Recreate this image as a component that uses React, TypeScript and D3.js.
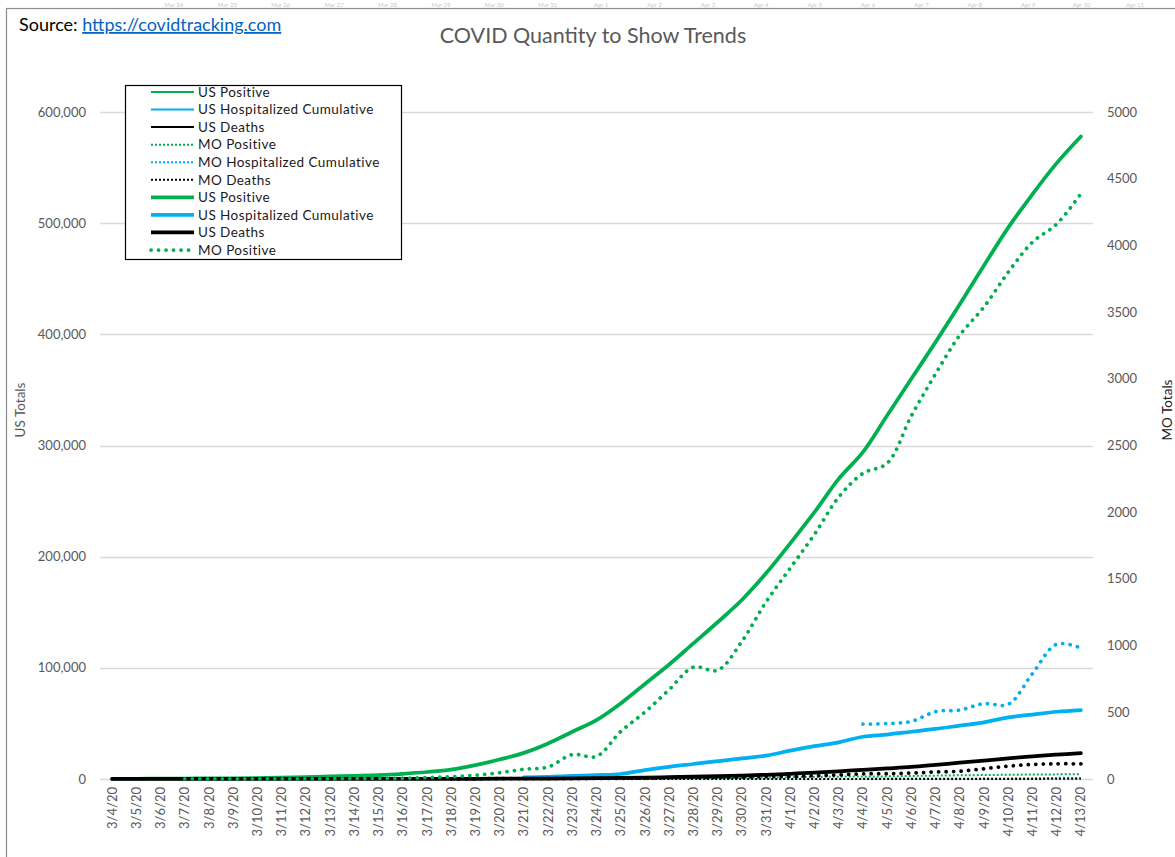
import { useEffect, useRef } from "react";
import * as d3 from "d3";

const dates = [
  "3/4/20", "3/5/20", "3/6/20", "3/7/20", "3/8/20", "3/9/20", "3/10/20", "3/11/20",
  "3/12/20", "3/13/20", "3/14/20", "3/15/20", "3/16/20", "3/17/20", "3/18/20", "3/19/20",
  "3/20/20", "3/21/20", "3/22/20", "3/23/20", "3/24/20", "3/25/20", "3/26/20", "3/27/20",
  "3/28/20", "3/29/20", "3/30/20", "3/31/20", "4/1/20", "4/2/20", "4/3/20", "4/4/20",
  "4/5/20", "4/6/20", "4/7/20", "4/8/20", "4/9/20", "4/10/20", "4/11/20", "4/12/20", "4/13/20",
];

type V = number | null;

const usPositive: V[] = [
  120, 200, 300, 400, 500, 600, 900, 1200, 1700, 2300, 2900, 3500, 4700, 6300, 8500, 12500,
  17500, 23500, 32000, 42500, 53000, 68000, 85500, 103000, 122000, 141000, 161000, 185000,
  212000, 240000, 270000, 294000, 327000, 360000, 393000, 427000, 462000, 496000, 526000,
  554000, 578000,
];

const usHospitalized: V[] = [
  null, null, null, null, null, null, null, null, null, null, null, null, null, null, null, null,
  null, 1500, 2000, 2800, 3500, 4500, 8000, 11000, 13500, 16000, 18500, 21000, 25500, 29500,
  33000, 38000, 40000, 42500, 45000, 48000, 51000, 55500, 58000, 60500, 62000,
];

const usDeaths: V[] = [
  10, 12, 14, 17, 21, 22, 28, 36, 40, 49, 57, 68, 85, 108, 137, 192, 249, 321, 420, 556, 763,
  1000, 1300, 1700, 2200, 2500, 3000, 3800, 4700, 5700, 6900, 8300, 9500, 10800, 12700, 14700,
  16600, 18600, 20400, 21900, 23300,
];

const moPositive: V[] = [
  null, null, null, 1, 1, 1, 1, 1, 1, 2, 4, 5, 6, 11, 17, 28, 47, 73, 90, 183, 170, 356, 502,
  670, 838, 815, 1031, 1327, 1581, 1834, 2113, 2291, 2367, 2722, 3037, 3327, 3539, 3799, 4024,
  4160, 4388,
];

const moHospitalized: V[] = [
  null, null, null, null, null, null, null, null, null, null, null, null, null, null, null, null,
  null, null, null, null, null, null, null, null, null, null, null, null, null, null, null, 412,
  415, 432, 505, 517, 565, 560, 790, 1010, 982,
];

const moDeaths: V[] = [
  null, null, null, null, null, null, null, null, null, null, null, null, null, null, 1, 1, 3, 3,
  3, 3, 4, 5, 8, 9, 12, 13, 14, 18, 19, 24, 30, 39, 40, 44, 53, 58, 77, 96, 109, 114, 114,
];

const usTicks = [0, 100000, 200000, 300000, 400000, 500000, 600000];
const moTicks = [0, 500, 1000, 1500, 2000, 2500, 3000, 3500, 4000, 4500, 5000];

// faint labels of another chart peeking in at the very top
const topLabels = [
  "Mar 24", "Mar 25", "Mar 26", "Mar 27", "Mar 28", "Mar 29", "Mar 30", "Mar 31", "Apr 1",
  "Apr 2", "Apr 3", "Apr 4", "Apr 5", "Apr 6", "Apr 7", "Apr 8", "Apr 9", "Apr 10", "Apr 11",
];

const GREEN = "#00B050";
const BLUE = "#00B0F0";
const BLACK = "#000000";
const GREY = "#595959";
const FONT = "Lato, 'Open Sans', sans-serif";

type Series = {
  name: string;
  values: V[];
  color: string;
  axis: "us" | "mo";
  width: number;
  dash: string | null;
  cap: "butt" | "round";
};

const thinSeries: Series[] = [
  { name: "US Positive", values: usPositive, color: GREEN, axis: "us", width: 2, dash: null, cap: "butt" },
  { name: "US Hospitalized Cumulative", values: usHospitalized, color: BLUE, axis: "us", width: 2, dash: null, cap: "butt" },
  { name: "US Deaths", values: usDeaths, color: BLACK, axis: "us", width: 2, dash: null, cap: "butt" },
  { name: "MO Positive", values: moPositive, color: GREEN, axis: "us", width: 2, dash: "2 2", cap: "butt" },
  { name: "MO Hospitalized Cumulative", values: moHospitalized, color: BLUE, axis: "us", width: 2, dash: "2 2", cap: "butt" },
  { name: "MO Deaths", values: moDeaths, color: BLACK, axis: "us", width: 2, dash: "2 2", cap: "butt" },
];

const thickSeries: Series[] = [
  { name: "US Positive", values: usPositive, color: GREEN, axis: "us", width: 3.75, dash: null, cap: "round" },
  { name: "US Hospitalized Cumulative", values: usHospitalized, color: BLUE, axis: "us", width: 3.75, dash: null, cap: "round" },
  { name: "US Deaths", values: usDeaths, color: BLACK, axis: "us", width: 3.75, dash: null, cap: "round" },
  { name: "MO Positive", values: moPositive, color: GREEN, axis: "mo", width: 3.75, dash: "0.1 7.4", cap: "round" },
  { name: "MO Hospitalized Cumulative", values: moHospitalized, color: BLUE, axis: "mo", width: 3.75, dash: "0.1 7.4", cap: "round" },
  { name: "MO Deaths", values: moDeaths, color: BLACK, axis: "mo", width: 3.75, dash: "0.1 7.4", cap: "round" },
];

// legend box only fits the first ten entries
const legendEntries = [...thinSeries, ...thickSeries].slice(0, 10);

const W = 1175;
const H = 857;
const PLOT = { left: 100, right: 1093, top: 112, bottom: 779 };

function App() {
  const svgRef = useRef<SVGSVGElement>(null);

  useEffect(() => {
    const svg = svgRef.current;
    if (!svg) return;
    d3.select(svg).selectAll("*").remove();
    const root = d3.select(svg);

    const x = d3.scalePoint<string>().domain(dates).range([PLOT.left, PLOT.right]).padding(0.5);
    const yUs = d3.scaleLinear().domain([0, 600000]).range([PLOT.bottom, PLOT.top]);
    const yMo = d3.scaleLinear().domain([0, 5000]).range([PLOT.bottom, PLOT.top]);

    root.append("rect").attr("width", W).attr("height", H).attr("fill", "#fff");

    // faint top labels
    const xTop = d3.scalePoint<string>().domain(topLabels).range([174, 1135]);
    root
      .append("g")
      .selectAll("text")
      .data(topLabels)
      .join("text")
      .attr("x", (d) => xTop(d)!)
      .attr("y", 6.5)
      .attr("text-anchor", "middle")
      .attr("font-family", FONT)
      .attr("font-size", 6)
      .attr("fill", "#c8c8c8")
      .text((d) => d);

    // chart area frame
    root
      .append("rect")
      .attr("x", 6.5)
      .attr("y", 8.5)
      .attr("width", W + 20)
      .attr("height", H + 20)
      .attr("fill", "#fff")
      .attr("stroke", "#8c8c8c")
      .attr("stroke-width", 1.2);

    // gridlines
    root
      .append("g")
      .selectAll("line")
      .data(usTicks)
      .join("line")
      .attr("x1", PLOT.left)
      .attr("x2", PLOT.right)
      .attr("y1", (d) => Math.round(yUs(d)) + 0.5)
      .attr("y2", (d) => Math.round(yUs(d)) + 0.5)
      .attr("stroke", "#d9d9d9")
      .attr("stroke-width", 1.3);

    // left axis labels
    root
      .append("g")
      .selectAll("text")
      .data(usTicks)
      .join("text")
      .attr("x", 86)
      .attr("y", (d) => yUs(d))
      .attr("dy", "0.35em")
      .attr("text-anchor", "end")
      .attr("font-family", FONT)
      .attr("font-size", 13)
      .attr("fill", GREY)
      .text((d) => d3.format(",")(d));

    // right axis labels
    root
      .append("g")
      .selectAll("text")
      .data(moTicks)
      .join("text")
      .attr("x", 1107)
      .attr("y", (d) => yMo(d))
      .attr("dy", "0.35em")
      .attr("text-anchor", "start")
      .attr("font-family", FONT)
      .attr("font-size", 13)
      .attr("fill", GREY)
      .text((d) => String(d));

    // x labels
    root
      .append("g")
      .selectAll("text")
      .data(dates)
      .join("text")
      .attr("transform", (d) => `translate(${x(d)},787) rotate(-90)`)
      .attr("dy", "0.35em")
      .attr("text-anchor", "end")
      .attr("font-family", FONT)
      .attr("font-size", 13)
      .attr("fill", GREY)
      .text((d) => d);

    // axis titles
    root
      .append("text")
      .attr("transform", "translate(20,410) rotate(-90)")
      .attr("dy", "0.35em")
      .attr("text-anchor", "middle")
      .attr("font-family", FONT)
      .attr("font-size", 13.5)
      .attr("fill", GREY)
      .text("US Totals");

    root
      .append("text")
      .attr("transform", "translate(1167,410) rotate(-90)")
      .attr("dy", "0.35em")
      .attr("text-anchor", "middle")
      .attr("font-family", FONT)
      .attr("font-size", 13.5)
      .attr("fill", "#222")
      .text("MO Totals");

    // title
    root
      .append("text")
      .attr("x", 593)
      .attr("y", 43)
      .attr("text-anchor", "middle")
      .attr("font-family", FONT)
      .attr("font-size", 21.5)
      .attr("fill", GREY)
      .text("COVID Quantity to Show Trends");

    // source
    const src = root
      .append("text")
      .attr("x", 19)
      .attr("y", 31)
      .attr("font-family", FONT)
      .attr("font-size", 18)
      .attr("fill", "#000");
    src.append("tspan").text("Source: ");
    src
      .append("tspan")
      .attr("fill", "#0563C1")
      .attr("text-decoration", "underline")
      .text("https://covidtracking.com");

    // lines
    const drawSeries = (s: Series) => {
      const y = s.axis === "us" ? yUs : yMo;
      const line = d3
        .line<V>()
        .defined((d) => d != null)
        .x((_, i) => x(dates[i])!)
        .y((d) => y(d as number))
        .curve(d3.curveCatmullRom.alpha(0.5));
      root
        .append("path")
        .datum(s.values)
        .attr("fill", "none")
        .attr("stroke", s.color)
        .attr("stroke-width", s.width)
        .attr("stroke-linecap", s.cap)
        .attr("stroke-linejoin", "round")
        .attr("stroke-dasharray", s.dash ?? null)
        .attr("d", line);
    };
    thinSeries.forEach(drawSeries);
    thickSeries.forEach(drawSeries);

    // legend
    const lg = root.append("g");
    lg.append("rect")
      .attr("x", 125.5)
      .attr("y", 85.5)
      .attr("width", 276)
      .attr("height", 174)
      .attr("fill", "#fff")
      .attr("stroke", "#000")
      .attr("stroke-width", 1.2);
    const ly = d3.scalePoint<number>().domain(d3.range(legendEntries.length)).range([92, 250]);
    legendEntries.forEach((s, i) => {
      const yy = ly(i)!;
      lg.append("line")
        .attr("x1", 151)
        .attr("x2", 194)
        .attr("y1", yy)
        .attr("y2", yy)
        .attr("stroke", s.color)
        .attr("stroke-width", s.width)
        .attr("stroke-linecap", s.dash && s.cap === "round" ? "round" : "butt")
        .attr("stroke-dasharray", s.dash ?? null);
      lg.append("text")
        .attr("x", 198)
        .attr("y", yy)
        .attr("dy", "0.35em")
        .attr("font-family", FONT)
        .attr("font-size", 13.5)
        .attr("letter-spacing", 0.45)
        .attr("fill", "#1a1a1a")
        .text(s.name);
    });
  }, []);

  return (
    <div style={{ position: "absolute", left: 0, top: 0, width: W, height: H }}>
      <svg ref={svgRef} width={W} height={H} style={{ display: "block" }} />
    </div>
  );
}

export default App;
